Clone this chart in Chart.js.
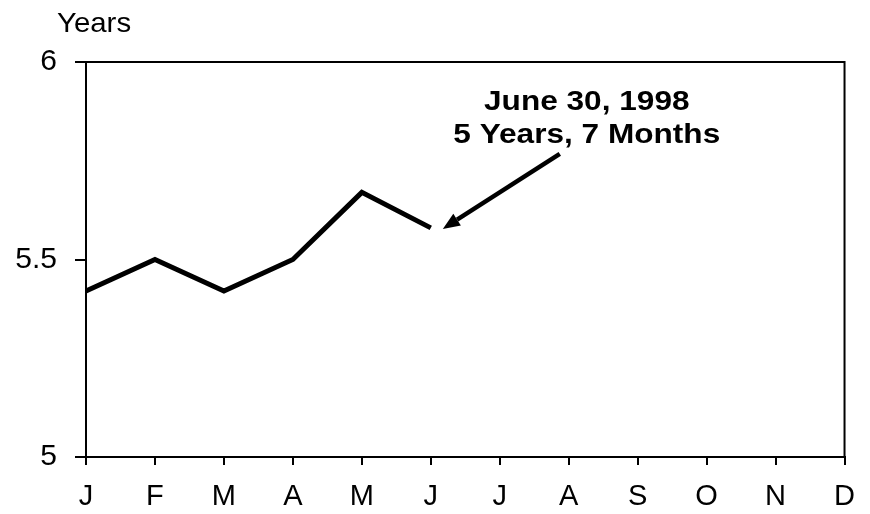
<!DOCTYPE html>
<html>
<head>
<meta charset="utf-8">
<script src="https://cdn.jsdelivr.net/npm/chart.js@4/dist/chart.umd.min.js"></script>
<style>
  html, body { margin: 0; padding: 0; background: #fff; }
  #wrap { width: 870px; height: 514px; position: relative; }
</style>
</head>
<body>
<div id="wrap"><canvas id="c" width="870" height="514"></canvas></div>
<script>
const categories = ['J','F','M','A','M','J','J','A','S','O','N','D'];
const durationYears = [5.42, 5.50, 5.42, 5.50, 5.67, 5.58, null, null, null, null, null, null];
const yTicks = [5, 5.5, 6];
const yAxisTitle = 'Years';
const annotationLines = ['June 30, 1998', '5 Years, 7 Months'];
const annotationIndex = 5;

const FONT = 'Arial, "Liberation Sans", Helvetica, sans-serif';

const framePlugin = {
  id: 'frame',
  afterDraw(chart) {
    const ctx = chart.ctx;
    const a = chart.chartArea;
    const xs = chart.scales.x, ys = chart.scales.y;
    ctx.save();
    ctx.strokeStyle = '#000';
    ctx.lineWidth = 2;
    ctx.beginPath();
    ctx.moveTo(a.left, a.top);
    ctx.lineTo(a.right, a.top);
    ctx.lineTo(a.right, a.bottom);
    ctx.stroke();

    // Axis title
    ctx.fillStyle = '#000';
    ctx.font = '28px ' + FONT;
    ctx.textAlign = 'left';
    ctx.textBaseline = 'alphabetic';
    ctx.save();
    ctx.translate(57, 32);
    ctx.scale(1.05, 1);
    ctx.fillText(yAxisTitle, 0, 0);
    ctx.restore();

    // Annotation arrow
    const px = xs.getPixelForValue(annotationIndex);
    const py = ys.getPixelForValue(durationYears[annotationIndex]);
    const tipX = px + 12, tipY = py + 1;
    const tailX = tipX + 117, tailY = tipY - 75;
    const ang = Math.atan2(tipY - tailY, tipX - tailX);
    const headLen = 17, headW = 7;
    const bx = tipX - headLen * Math.cos(ang), by = tipY - headLen * Math.sin(ang);
    ctx.lineWidth = 4.5;
    ctx.beginPath();
    ctx.moveTo(tailX, tailY);
    ctx.lineTo(bx, by);
    ctx.stroke();
    ctx.beginPath();
    ctx.moveTo(tipX, tipY);
    ctx.lineTo(bx + headW * Math.sin(ang), by - headW * Math.cos(ang));
    ctx.lineTo(bx - headW * Math.sin(ang), by + headW * Math.cos(ang));
    ctx.closePath();
    ctx.fill();

    // Annotation text (horizontally widened like the reference face)
    ctx.font = 'bold 27px ' + FONT;
    ctx.textAlign = 'center';
    ctx.textBaseline = 'alphabetic';
    const cx = tipX + 144;
    [[annotationLines[0], tipY - 119], [annotationLines[1], tipY - 86]].forEach(([t, yy]) => {
      ctx.save();
      ctx.translate(cx, yy);
      ctx.scale(1.17, 1);
      ctx.fillText(t, 0, 0);
      ctx.restore();
    });
    ctx.restore();
  }
};

new Chart(document.getElementById('c'), {
  type: 'line',
  data: {
    labels: categories,
    datasets: [{
      data: durationYears,
      borderColor: '#000',
      borderWidth: 5,
      pointRadius: 0,
      tension: 0,
      fill: false,
      spanGaps: false
    }]
  },
  options: {
    responsive: false,
    animation: false,
    events: [],
    layout: { padding: { top: 62, right: 24, left: 0, bottom: 0 } },
    plugins: { legend: { display: false }, tooltip: { enabled: false }, title: { display: false } },
    scales: {
      x: {
        type: 'category',
        offset: false,
        grid: { drawOnChartArea: false, drawTicks: true, tickLength: 8, color: '#000', lineWidth: 2 },
        border: { display: true, color: '#000', width: 2 },
        ticks: { color: '#000', font: { family: FONT, size: 29 }, padding: 15, maxRotation: 0, autoSkip: false },
        afterFit(s) { s.height = 57; }
      },
      y: {
        min: 5, max: 6,
        afterBuildTicks(s) { s.ticks = yTicks.map(v => ({ value: v })); },
        grid: { drawOnChartArea: false, drawTicks: true, tickLength: 11, color: '#000', lineWidth: 2 },
        border: { display: true, color: '#000', width: 2 },
        ticks: { color: '#000', font: { family: FONT, size: 30 }, padding: 18,
                 callback: v => String(v) },
        afterFit(s) { s.width = 86; }
      }
    }
  },
  plugins: [framePlugin]
});
</script>
</body>
</html>
